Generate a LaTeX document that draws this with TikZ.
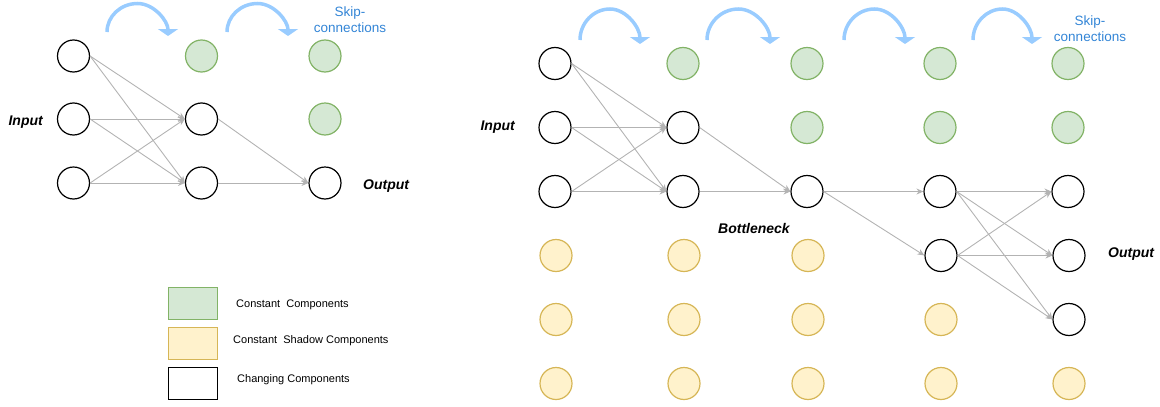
\documentclass[tikz,border=0pt]{standalone}
\usepackage{fontspec}
\setmainfont{Liberation Sans}
\usepackage{xcolor}
\usetikzlibrary{arrows.meta}

\definecolor{constfill}{HTML}{D5E8D4}
\definecolor{constline}{HTML}{82B366}
\definecolor{shadowfill}{HTML}{FFF2CC}
\definecolor{shadowline}{HTML}{D6B656}
\definecolor{skipblue}{HTML}{99CCFF}
\definecolor{skiplabel}{HTML}{3385D6}
\definecolor{edgegray}{HTML}{B3B3B3}

\begin{document}
\begin{tikzpicture}[x=1pt, y=-1pt,
			>={Stealth[length=7pt,width=6pt]},
			chg/.style={circle, draw=black, line width=1.2pt, minimum size=32pt, inner sep=0pt},
			cst/.style={chg, draw=constline, fill=constfill},
			shd/.style={chg, draw=shadowline, fill=shadowfill},
			link/.style={->, draw=edgegray, line width=0.9pt},
			skiparc/.style={-{Triangle[width=20pt,length=7pt]}, draw=skipblue, line width=3.5pt},
			skiptag/.style={font=\fontsize{13.5}{15.5}\selectfont, text=skiplabel, align=center, inner sep=0pt, anchor=north},
			tag/.style={font=\fontsize{14}{16}\selectfont\bfseries\itshape, inner sep=0pt},
			legbox/.style={rectangle, minimum width=49pt, minimum height=32pt, line width=1.2pt},
			legtext/.style={font=\fontsize{11}{13}\selectfont, inner sep=0pt, anchor=base west}]

			\useasboundingbox (0,0) rectangle (1160,407);

			% small network
			\node[chg] (la1) at (73.5,56) {};
			\node[chg] (la2) at (73.5,119) {};
			\node[chg] (la3) at (73.5,183) {};
			\node[cst] (lb1) at (201.5,56) {};
			\node[chg] (lb2) at (201.5,119) {};
			\node[chg] (lb3) at (201.5,183) {};
			\node[cst] (lc1) at (325,56) {};
			\node[cst] (lc2) at (325,119) {};
			\node[chg] (lc3) at (325,183) {};

			\foreach \s in {la1,la2,la3}
				\foreach \t in {lb2,lb3}
					\draw[link] (\s.east) -- (\t.west);
			\draw[link] (lb2.east) -- (lc3.west);
			\draw[link] (lb3.east) -- (lc3.west);

			\draw[skiparc] (107,32) .. controls (107,16.3) and (120.7,3.5) .. (137.5,3.5) .. controls (154.3,3.5) and (168,21.4) .. (168,36);
			\draw[skiparc] (227,32) .. controls (227,16.3) and (240.7,3.5) .. (257.5,3.5) .. controls (274.3,3.5) and (288,21.4) .. (288,36);
			\node[skiptag] (skipl) at (350,7) {Skip-\\connections};

			\node[tag, anchor=base east] (inl) at (43,125) {Input};
			\node[tag, anchor=base west] (outl) at (363,189) {Output};

			% legend
			\node[legbox, draw=constline, fill=constfill] (keyc) at (193,303.5) {};
			\node[legbox, draw=shadowline, fill=shadowfill] (keys) at (193,343.5) {};
			\node[legbox, draw=black, line width=1.4pt] (keyg) at (193,383.5) {};
			\node[legtext] (keyctext) at (236,307) {Constant\ \ Components};
			\node[legtext] (keystext) at (233,343) {Constant\ \ Shadow Components};
			\node[legtext] (keygtext) at (237,382) {Changing Components};

			% large network
			\node[chg] (ra1) at (555,63.5) {};
			\node[chg] (ra2) at (555,127.5) {};
			\node[chg] (ra3) at (555,191.5) {};
			\node[shd] (ra4) at (556,255.5) {};
			\node[shd] (ra5) at (556,319.5) {};
			\node[shd] (ra6) at (556,383.5) {};

			\node[cst] (rb1) at (683,63.5) {};
			\node[chg] (rb2) at (683,127.5) {};
			\node[chg] (rb3) at (683,191.5) {};
			\node[shd] (rb4) at (684,255.5) {};
			\node[shd] (rb5) at (684,319.5) {};
			\node[shd] (rb6) at (684,383.5) {};

			\node[cst] (rc1) at (807,63.5) {};
			\node[cst] (rc2) at (807,127.5) {};
			\node[chg] (rc3) at (807,191.5) {};
			\node[shd] (rc4) at (808,255.5) {};
			\node[shd] (rc5) at (808,319.5) {};
			\node[shd] (rc6) at (808,383.5) {};

			\node[cst] (rd1) at (940,63.5) {};
			\node[cst] (rd2) at (940,127.5) {};
			\node[chg] (rd3) at (940,191.5) {};
			\node[chg] (rd4) at (941,255.5) {};
			\node[shd] (rd5) at (941,319.5) {};
			\node[shd] (rd6) at (941,383.5) {};

			\node[cst] (re1) at (1068,63.5) {};
			\node[cst] (re2) at (1068,127.5) {};
			\node[chg] (re3) at (1068,191.5) {};
			\node[chg] (re4) at (1069,255.5) {};
			\node[chg] (re5) at (1069,319.5) {};
			\node[shd] (re6) at (1069,383.5) {};

			\foreach \s in {ra1,ra2,ra3}
				\foreach \t in {rb2,rb3}
					\draw[link] (\s.east) -- (\t.west);
			\draw[link] (rb2.east) -- (rc3.west);
			\draw[link] (rb3.east) -- (rc3.west);
			\draw[link] (rc3.east) -- (rd3.west);
			\draw[link] (rc3.east) -- (rd4.west);
			\foreach \s in {rd3,rd4}
				\foreach \t in {re3,re4,re5}
					\draw[link] (\s.east) -- (\t.west);

			\draw[skiparc] (580,40) .. controls (580,23) and (593.5,9) .. (610,9) .. controls (626.5,9) and (640,28) .. (640,44);
			\draw[skiparc] (707,40) .. controls (707,23) and (721.2,9) .. (738.5,9) .. controls (755.8,9) and (770,28) .. (770,44);
			\draw[skiparc] (844,40) .. controls (844,23) and (857.7,9) .. (874.5,9) .. controls (891.3,9) and (905,28) .. (905,44);
			\draw[skiparc] (973,40) .. controls (973,23) and (986.3,9) .. (1002.5,9) .. controls (1018.7,9) and (1032,28) .. (1032,44);
			\node[skiptag] (skipr) at (1090,16) {Skip-\\connections};

			\node[tag, anchor=base east] (inr) at (515,130) {Input};
			\node[tag, anchor=base west] (bneck) at (718,233) {Bottleneck};
			\node[tag, anchor=base west] (outr) at (1108,257) {Output};
		\end{tikzpicture}
\end{document}
